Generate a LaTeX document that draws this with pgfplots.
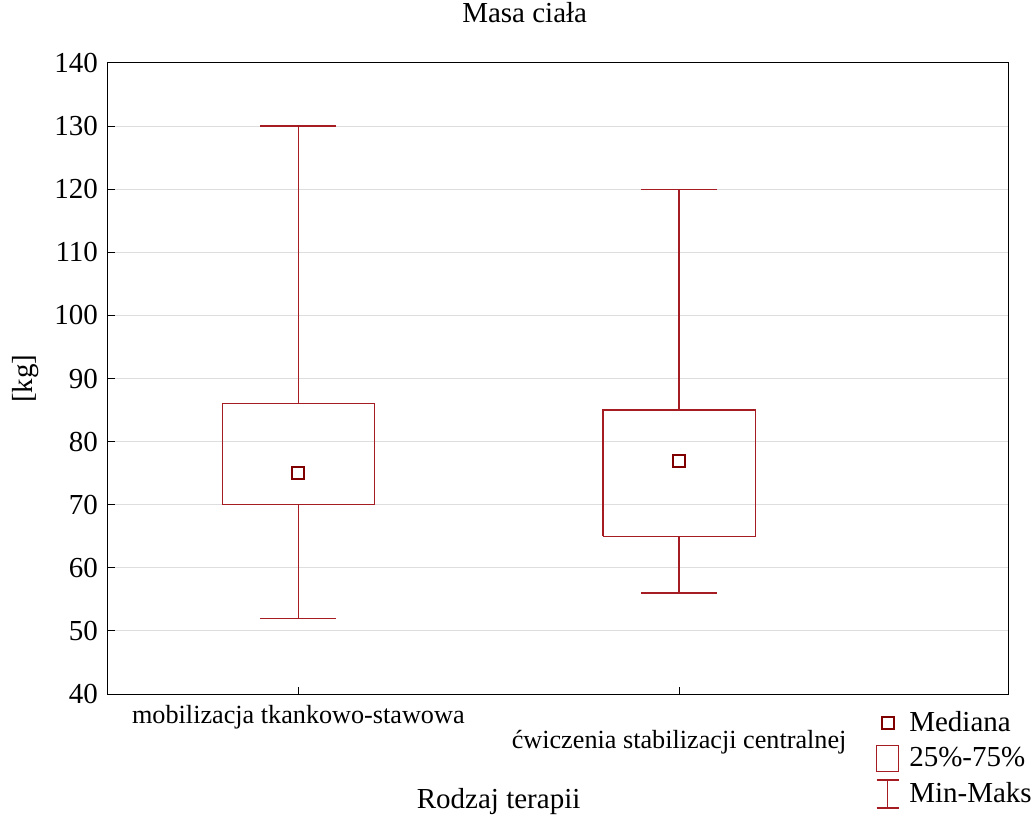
\documentclass[border=0pt]{standalone}
\usepackage{pgfplots}
\pgfplotsset{compat=1.18}
\usepackage{fontspec}
\setmainfont{Liberation Serif}

\definecolor{boxred}{RGB}{165,28,34}
\definecolor{medred}{RGB}{128,0,0}
\definecolor{gridgray}{RGB}{222,222,222}

\newcommand{\bigfont}{\fontsize{14.5}{17.4}\selectfont}
\newcommand{\catfont}{\fontsize{13.1}{12.5}\selectfont}

\begin{document}
\begin{tikzpicture}
\useasboundingbox (-54pt,-60.5pt) rectangle (462pt,347pt);
\begin{axis}[
  scale only axis,
  width=450pt, height=315.5pt,
  xmin=-0.5, xmax=1.864,
  ymin=40, ymax=140,
  ytick={40,50,...,140},
  xtick={0,1},
  xticklabels={{mobilizacja tkankowo-stawowa},{\rule{0pt}{9pt}\\ćwiczenia stabilizacji centralnej}},
  xticklabel style={font=\catfont, align=center, yshift=-2pt},
  yticklabel style={font=\bigfont, xshift=-1.5pt},
  /pgf/number format/assume math mode=true,
  tick pos=left,
  tick align=inside,
  major tick length=3.5pt,
  tick style={black, line width=0.5pt},
  axis line style={black, line width=0.5pt},
  ymajorgrids,
  grid style={gridgray, line width=0.5pt},
  title={Masa ciała},
  title style={font=\bigfont, at={(axis description cs:0.463,1.0444)}, anchor=base},
  xlabel={Rodzaj terapii},
  xlabel style={font=\bigfont, at={(axis description cs:0.434,-0.182)}, anchor=base},
  ylabel={[kg]},
  ylabel style={font=\bigfont, at={(axis description cs:-0.0844,0.5)}, anchor=base},
  unbounded coords=jump,
  legend style={at={(axis description cs:0.853,-0.02)}, anchor=north west,
    draw=none, fill=none, font=\bigfont, row sep=2.5pt, inner sep=0pt,
    /tikz/every odd column/.append style={column sep=3pt}},
  legend cell align=left,
]
% legend symbols
\addlegendimage{legend image code/.code={
  \draw[medred, line width=1pt] (2.5pt,-3pt) rectangle (8.5pt,3pt);}}
\addlegendentry{Mediana}
\addlegendimage{legend image code/.code={
  \draw[boxred, line width=0.6pt] (0pt,-6.5pt) rectangle (11pt,6.5pt);}}
\addlegendentry{25\%-75\%}
\addlegendimage{legend image code/.code={
  \draw[boxred, line width=0.6pt] (0pt,-7pt) -- (11pt,-7pt)
    (5.5pt,-7pt) -- (5.5pt,7pt) (0pt,7pt) -- (11pt,7pt);}}
\addlegendentry{Min-Maks}

% boxes: quartiles 25%-75%
\addplot[boxred, line width=0.6pt, forget plot] coordinates {
  (-0.2,70) (0.2,70) (0.2,86) (-0.2,86) (-0.2,70)};
\addplot[boxred, line width=0.6pt, forget plot] coordinates {
  (0.8,65) (1.2,65) (1.2,85) (0.8,85) (0.8,65)};

% whiskers and caps: min-max
\addplot[boxred, line width=0.6pt, forget plot] coordinates {
  (0,86) (0,130) (0,nan) (-0.1,130) (0.1,130) (0,nan)
  (0,70) (0,52) (0,nan) (-0.1,52) (0.1,52)};
\addplot[boxred, line width=0.6pt, forget plot] coordinates {
  (1,85) (1,120) (1,nan) (0.9,120) (1.1,120) (1,nan)
  (1,65) (1,56) (1,nan) (0.9,56) (1.1,56)};

% medians
\addplot[only marks, mark=square, mark size=3pt, medred,
  mark options={line width=1pt}, forget plot]
  coordinates {(0,75) (1,77)};
\end{axis}
\end{tikzpicture}
\end{document}
